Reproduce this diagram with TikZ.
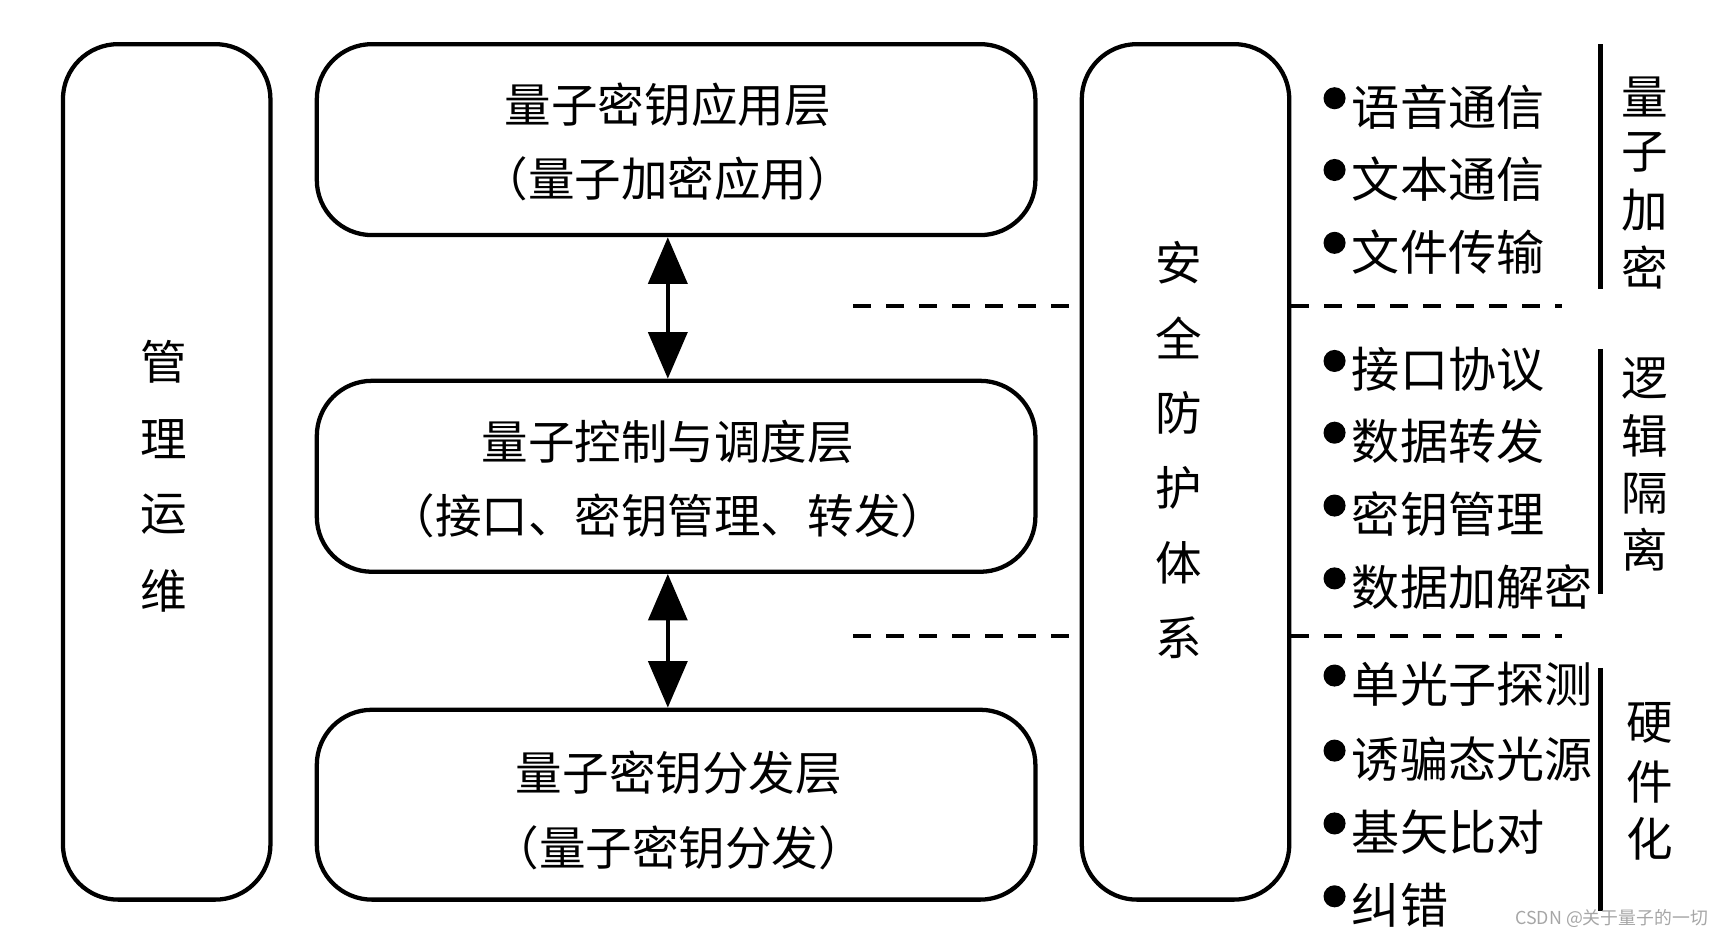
\documentclass[tikz,border=0pt]{standalone}
\usepackage{fontspec}
\setmainfont{Noto Sans CJK SC}
\usetikzlibrary{arrows.meta}
\tikzset{
  layer/.style={draw, line width=1.1pt, rounded corners=5mm, inner sep=0pt},
  txt/.style={font=\fontsize{12}{14}\selectfont, inner sep=0pt},
  item/.style={font=\fontsize{12.4}{14}\selectfont, inner sep=0pt, anchor=west},
  dot/.style={circle, fill, inner sep=0pt, minimum size=2mm},
  sep/.style={dashed, line width=1.1pt, dash pattern=on 4.5pt off 4pt},
  brace/.style={line width=1.1pt},
  link/.style={line width=1.1pt, {Triangle[width=10pt,length=12pt]}-{Triangle[width=10pt,length=12pt]}}
}
\begin{document}
\begin{tikzpicture}[x=0.1mm,y=-0.1mm]
\useasboundingbox (0,0) rectangle (1560,846);
% frames
\node [layer, minimum width=188*0.1mm, minimum height=775*0.1mm] (ops) at (151,427.5) {};
\node [layer, minimum width=651*0.1mm, minimum height=173*0.1mm] (app) at (612.5,126.5) {};
\node [layer, minimum width=651*0.1mm, minimum height=173*0.1mm] (ctl) at (612.5,431.5) {};
\node [layer, minimum width=651*0.1mm, minimum height=172*0.1mm] (qkd) at (612.5,729) {};
\node [layer, minimum width=188*0.1mm, minimum height=775*0.1mm] (sec) at (1074,427.5) {};
% texts
\node [txt] (opsA) at (148,328) {管};
\node [txt] (opsB) at (148,398) {理};
\node [txt] (opsC) at (148,466) {运};
\node [txt] (opsD) at (148,535) {维};
\node [txt] (appA) at (605,95) {量子密钥应用层};
\node [txt] (appB) at (605,162) {（量子加密应用）};
\node [txt] (ctlA) at (605,400) {量子控制与调度层};
\node [txt] (ctlB) at (605,467) {（接口、密钥管理、转发）};
\node [txt] (qkdA) at (615,700) {量子密钥分发层};
\node [txt] (qkdB) at (615,768) {（量子密钥分发）};
\foreach \c [count=\i] in {安,全,防,护,体,系}
  \node [txt] (sec\i) at (1068,170+68*\i) {\c};
% arrows
\draw [link] (app.south -| 605,0) -- (ctl.north -| 605,0);
\draw [link] (ctl.south -| 605,0) -- (qkd.north -| 605,0);
% dashed separators
\coordinate (s1) at (773,277);
\coordinate (e1) at (1415,277);
\coordinate (s2) at (773,576);
\coordinate (e2) at (1415,576);
\draw [sep] (s1) -- (s1 -| sec.west);
\draw [sep] (sec.east |- s1) -- (e1);
\draw [sep] (s2) -- (s2 -| sec.west);
\draw [sep] (sec.east |- s2) -- (e2);
% items
\foreach \t/\y [count=\i] in {语音通信/97,文本通信/162,文件传输/228,接口协议/335,数据转发/400,密钥管理/466,数据加解密/532,单光子探测/620,诱骗态光源/688,基矢比对/754,纠错/820}{
  \node [dot] (d\i) at (1209,\y-8) {};
  \node [item] (it\i) at (1224,\y) {\t};
}
% brackets
\draw [brace] (1450,40) -- (1450,262);
\draw [brace] (1450,316) -- (1450,538);
\draw [brace] (1450,605) -- (1450,825);
\foreach \c/\y [count=\i] in {量/88,子/138,加/190,密/242,逻/343,辑/395,隔/447,离/498}
  \node [txt] (g\i) at (1490,\y) {\c};
\foreach \c/\y [count=\i] in {硬/655,件/708,化/760}
  \node [txt] (h\i) at (1495,\y) {\c};
\node [font=\fontsize{4.6}{5}\selectfont, text=gray!70, inner sep=0pt] (mark) at (1460,832) {CSDN @关于量子的一切};
\end{tikzpicture}
\end{document}
